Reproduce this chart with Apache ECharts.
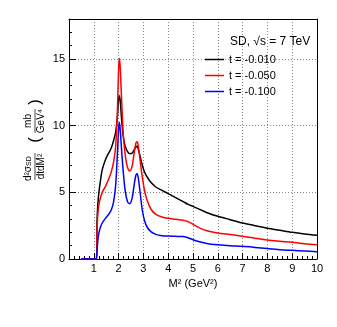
<!DOCTYPE html>
<html>
<head>
<meta charset="utf-8">
<script src="https://cdn.jsdelivr.net/npm/echarts@6/dist/echarts.min.js"></script>
<style>
  html, body { margin: 0; padding: 0; background: #fff; }
  #chart { width: 337px; height: 327px; }
</style>
</head>
<body>
<div id="chart"></div>
<script>
// M^2 sampling points (GeV^2)
const massSq = [0.5, 1.1, 1.13, 1.16, 1.2, 1.27, 1.34, 1.47, 1.6, 1.7, 1.8, 1.88, 1.95, 2.0, 2.03, 2.07,
  2.12, 2.18, 2.26, 2.36, 2.45, 2.55, 2.63, 2.7, 2.75, 2.8, 2.88, 2.96, 3.05, 3.15, 3.3, 3.5, 3.75,
  4.0, 4.3, 4.6, 4.8, 5.0, 5.3, 5.6, 6.0, 6.5, 7.0, 7.5, 8.0, 8.5, 9.0, 9.5, 10.0]

// d2sigma/dtdM2 (mb/GeV^4) for each t
const t010 = [0, 0, 2.8, 4.0, 4.9, 5.9, 6.7, 7.45, 7.95, 8.3, 8.9, 9.5, 10.6, 12.0, 12.25, 11.8,
  10.5, 9.3, 8.5, 8.05, 7.9, 7.95, 8.2, 8.4, 8.45, 8.2, 7.6, 7.0, 6.5, 6.15, 5.75, 5.4, 5.15,
  4.9, 4.6, 4.3, 4.1, 3.95, 3.7, 3.45, 3.2, 2.95, 2.7, 2.5, 2.3, 2.15, 2.0, 1.88, 1.78]
const t050 = [0, 0, 2.0, 3.3, 4.0, 4.6, 5.0, 5.45, 6.0, 6.5, 7.3, 8.4, 11.0, 14.3, 15.05, 14.2,
  12.0, 9.6, 7.9, 6.85, 6.6, 7.0, 8.0, 8.7, 8.8, 8.4, 7.2, 6.1, 5.1, 4.4, 3.75, 3.35, 3.15,
  3.05, 2.98, 2.9, 2.8, 2.6, 2.3, 2.1, 1.95, 1.83, 1.7, 1.55, 1.42, 1.33, 1.25, 1.15, 1.07]
const t100 = [0, 0, 0.6, 1.3, 1.9, 2.4, 2.7, 3.05, 3.35, 3.65, 4.3, 5.5, 7.8, 9.8, 10.25, 9.6,
  8.2, 6.7, 5.2, 4.3, 4.15, 4.6, 5.6, 6.3, 6.4, 6.0, 4.8, 3.6, 2.85, 2.4, 2.05, 1.85, 1.75,
  1.72, 1.7, 1.68, 1.6, 1.45, 1.28, 1.15, 1.07, 1.0, 0.95, 0.87, 0.78, 0.7, 0.65, 0.6, 0.55]

const seriesNames = ['t = -0.010', 't = -0.050', 't = -0.100']
const seriesColors = ['#000000', '#ff0000', '#0000ff']
const seriesValues = [t010, t050, t100]

const FONT = '"Liberation Sans", Arial, sans-serif'

const chart = echarts.init(document.getElementById('chart'))

const series = seriesValues.map((vals, i) => ({
  name: seriesNames[i],
  type: 'line',
  data: massSq.map((m, j) => [m, vals[j]]),
  symbol: 'none',
  smooth: 0.3,
  lineStyle: { color: seriesColors[i], width: 1.5 },
  itemStyle: { color: seriesColors[i] }
}))

const gridLine = { show: true, lineStyle: { color: '#888', type: [1, 2], width: 1 } }

const option = {
  animation: false,
  backgroundColor: '#fff',
  grid: { left: 69, right: 20, top: 19, bottom: 68 },
  xAxis: [{
    type: 'value', min: 0, max: 10, interval: 1,
    name: 'M² (GeV²)', nameLocation: 'middle', nameGap: 16,
    nameTextStyle: { fontFamily: FONT, fontSize: 11, color: '#000' },
    axisLine: { lineStyle: { color: '#000' } },
    axisTick: { inside: true, length: 6, lineStyle: { color: '#000' } },
    minorTick: { show: true, splitNumber: 5, length: 3, lineStyle: { color: '#000' } },
    axisLabel: {
      fontFamily: FONT, fontSize: 11, color: '#000', margin: 4,
      formatter: v => (v === 0 ? '' : String(v))
    },
    splitLine: gridLine
  }, {
    type: 'value', min: 0, max: 10, position: 'top',
    axisLine: { show: true, onZero: false, lineStyle: { color: '#000' } },
    axisTick: { show: false }, axisLabel: { show: false }, splitLine: { show: false }
  }],
  yAxis: [{
    type: 'value', min: 0, max: 18, interval: 5,
    axisLine: { show: true, lineStyle: { color: '#000' } },
    axisTick: { show: true, inside: true, length: 7, lineStyle: { color: '#000' } },
    minorTick: { show: true, splitNumber: 5, length: 3, lineStyle: { color: '#000' } },
    axisLabel: { fontFamily: FONT, fontSize: 11, color: '#000', margin: 4, showMaxLabel: false },
    splitLine: gridLine
  }, {
    type: 'value', min: 0, max: 18, position: 'right',
    axisLine: { show: true, onZero: false, lineStyle: { color: '#000' } },
    axisTick: { show: false }, axisLabel: { show: false }, splitLine: { show: false }
  }],
  legend: {
    orient: 'vertical', left: 205, top: 53, padding: 0,
    icon: 'rect', itemWidth: 19, itemHeight: 1.5, itemGap: 3,
    textStyle: { fontFamily: FONT, fontSize: 11, color: '#000', lineHeight: 13 },
    data: seriesNames
  },
  graphic: [
    {
      type: 'text', left: 230, top: 36,
      style: { text: 'SD, √s = 7 TeV', font: '12px ' + FONT, fill: '#000' }
    },
    {
      // y-axis title, rotated
      type: 'group', x: 35, y: 140, rotation: Math.PI / 2,
      children: [
        { type: 'text', x: -26, y: -1.5, style: { text: 'd²σ', font: '10px ' + FONT, fill: '#000', align: 'right', verticalAlign: 'bottom' } },
        { type: 'text', x: -26, y: -2, style: { text: 'SD', font: '7px ' + FONT, fill: '#000', align: 'left', verticalAlign: 'bottom' } },
        { type: 'line', shape: { x1: -40, y1: 0, x2: -13, y2: 0 }, style: { stroke: '#000', lineWidth: 0.7 } },
        { type: 'text', x: -26.5, y: 1, style: { text: 'dtdM²', font: '10px ' + FONT, fill: '#000', align: 'center', verticalAlign: 'top' } },
        { type: 'text', x: 0, y: 0, style: { text: '(', font: '17px ' + FONT, fill: '#000', align: 'center', verticalAlign: 'middle' } },
        { type: 'text', x: 19, y: -1.5, style: { text: 'mb', font: '10px ' + FONT, fill: '#000', align: 'center', verticalAlign: 'bottom' } },
        { type: 'line', shape: { x1: 7, y1: 0, x2: 31, y2: 0 }, style: { stroke: '#000', lineWidth: 0.7 } },
        { type: 'text', x: 19, y: 1, style: { text: 'GeV⁴', font: '10px ' + FONT, fill: '#000', align: 'center', verticalAlign: 'top' } },
        { type: 'text', x: 38, y: 0, style: { text: ')', font: '17px ' + FONT, fill: '#000', align: 'center', verticalAlign: 'middle' } }
      ]
    }
  ],
  series
}

chart.setOption(option)
</script>
</body>
</html>
